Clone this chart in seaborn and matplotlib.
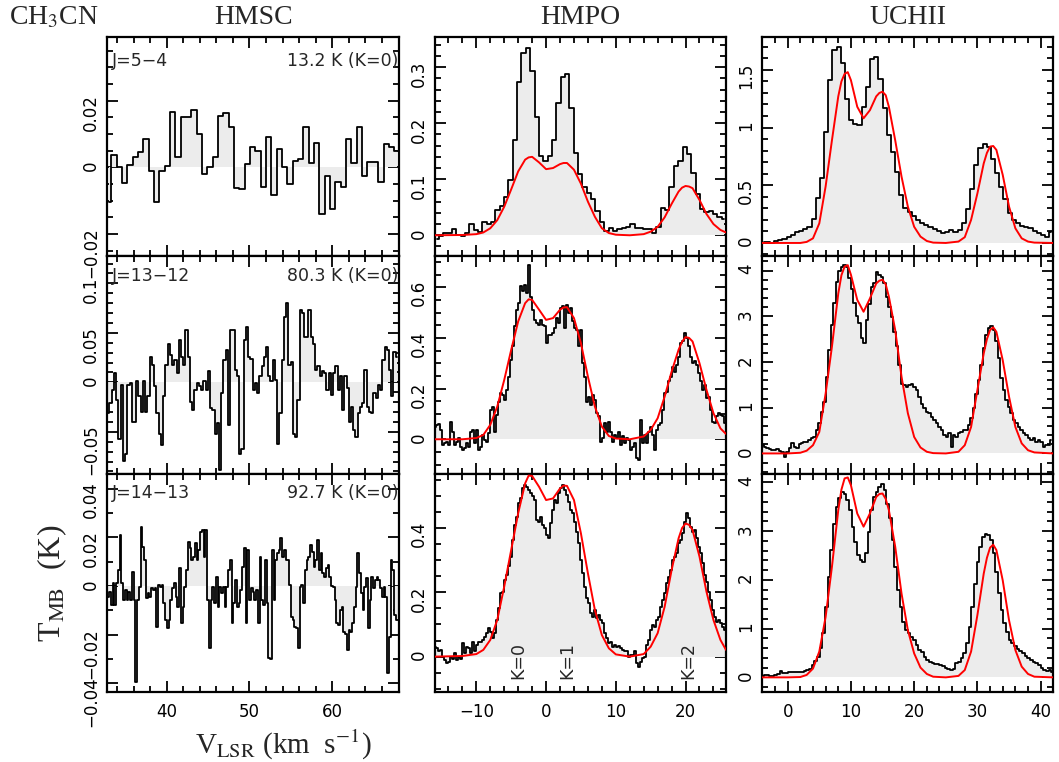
import numpy as np
import matplotlib
matplotlib.use('Agg')
import matplotlib.pyplot as plt
import seaborn as sns
from matplotlib.ticker import MultipleLocator, FuncFormatter

sns.set_theme(style='ticks')
plt.rcParams['font.family'] = ['DejaVu Sans']
plt.rcParams['mathtext.fontset'] = 'stix'

# Panel labels
sources = ['HMSC', 'HMPO', 'UCHII']
transitions = ['J=5\u22124', 'J=13\u221212', 'J=14\u221213']
eup_labels = ['13.2 K (K=0)', '80.3 K (K=0)', '92.7 K (K=0)']

# velocity span (first / last channel centre) of each spectrum, km/s
hmsc_span = [(33.0, 67.8), (32.95, 67.8), (32.95, 68.0)]
hmpo_span = [(-15.7, 25.5), (-15.9, 25.6), (-15.9, 25.7)]
uchii_span = [(-3.8, 41.7), (-4.0, 41.7), (-4.0, 41.9)]

# ---------------- HMSC spectra (K) ----------------
hmsc_54 = [-0.0103, 0.0037, 0.0, -0.0048, 0.0008, 0.0030, 0.0045, 0.0085, -0.0010, -0.0105,
           -0.0012, 0.0003, 0.0165, 0.0030, 0.0150, 0.0152, 0.0172, 0.0100, -0.0020, 0.0000,
           0.0030, 0.0155, 0.0162, 0.0120, -0.0062, -0.0065, 0.0010, 0.0060, 0.0050, -0.0058,
           0.0090, -0.0082, 0.0055, 0.0000, -0.0050, 0.0020, 0.0025, 0.0120, 0.0012, 0.0072,
           -0.0140, -0.0025, -0.0125, -0.0045, -0.0058, 0.0085, 0.0012, 0.0122, -0.0025, 0.0015,
           0.0015, -0.0043, 0.0070, 0.0060, 0.0050]

hmsc_1312 = [-0.031, -0.021, -0.008, 0.009, -0.018, -0.057, -0.003, -0.079, -0.072, -0.003,
             -0.001, -0.040, -0.040, 0.001, -0.014, -0.030, 0.001, -0.030, -0.014, 0.026,
             0.018, -0.004, -0.031, -0.052, -0.063, -0.014, 0.018, 0.039, 0.028, 0.018,
             0.023, 0.009, 0.043, 0.026, 0.018, 0.053, 0.026, -0.020, -0.028, -0.008,
             -0.001, -0.004, -0.008, 0.001, -0.008, 0.011, -0.026, -0.028, -0.052, -0.041,
             -0.089, -0.011, 0.023, 0.033, -0.043, 0.053, 0.053, 0.012, 0.006, -0.072,
             -0.067, 0.043, 0.056, 0.026, 0.024, -0.008, -0.001, -0.011, 0.006, 0.016,
             0.026, 0.036, 0.006, 0.001, 0.023, 0.002, -0.062, -0.031, 0.023, 0.066,
             0.080, 0.018, 0.021, -0.052, -0.055, -0.018, 0.073, 0.070, 0.046, 0.046,
             0.073, 0.046, 0.039, 0.012, 0.016, 0.006, 0.011, 0.009, -0.008, 0.009,
             -0.013, 0.009, 0.016, -0.008, 0.006, -0.028, 0.006, -0.006, -0.040, -0.025,
             -0.048, -0.055, -0.031, -0.025, -0.021, 0.012, -0.025, -0.030, -0.031, -0.011,
             -0.016, -0.003, -0.008, 0.023, 0.036, 0.033, 0.012, -0.014, 0.031, 0.026]

hmsc_1413 = [-0.0044, -0.0023, -0.0078, 0.0011, -0.0078, 0.0011, 0.0066, 0.0210, 0.0011, -0.0058,
             -0.0016, -0.0058, -0.0023, -0.0058, 0.0059, -0.0058, -0.0393, -0.0058, -0.0003, 0.0244,
             0.0162, 0.0107, -0.0051, -0.0030, -0.0044, -0.0010, -0.0016, -0.0010, -0.0167, 0.0004,
             -0.0003, 0.0004, -0.0071, -0.0140, -0.0174, -0.0140, -0.0058, -0.0010, 0.0011, -0.0044,
             -0.0085, 0.0073, -0.0153, -0.0085, -0.0003, 0.0066, 0.0182, 0.0155, 0.0107, 0.0121,
             0.0175, 0.0107, 0.0148, 0.0223, 0.0230, 0.0121, 0.0230, -0.0058, -0.0256, -0.0058,
             -0.0003, -0.0071, 0.0038, -0.0085, -0.0003, -0.0030, -0.0003, -0.0085, -0.0003, 0.0066,
             0.0107, -0.0153, -0.0071, 0.0025, -0.0085, -0.0071, -0.0016, 0.0079, 0.0155, -0.0153,
             0.0148, -0.0058, -0.0010, -0.0023, -0.0058, -0.0016, -0.0153, 0.0121, -0.0058, -0.0078,
             0.0107, -0.0071, -0.0297, -0.0301, 0.0148, -0.0058, 0.0107, 0.0134, 0.0148, 0.0196,
             0.0121, 0.0148, 0.0107, 0.0107, 0.0004, -0.0126, -0.0140, -0.0167, -0.0174, -0.0256,
             -0.0003, 0.0004, -0.0071, 0.0066, 0.0107, 0.0121, 0.0169, 0.0141, 0.0079, 0.0107,
             0.0189, 0.0066, 0.0134, 0.0052, 0.0038, 0.0073, 0.0086, 0.0038, 0.0000, -0.0003,
             -0.0058, -0.0153, -0.0160, -0.0099, -0.0085, -0.0188, -0.0195, -0.0263, -0.0181, -0.0188,
             -0.0153, -0.0085, -0.0003, 0.0134, 0.0052, -0.0030, -0.0099, -0.0003, 0.0032, -0.0174,
             -0.0058, 0.0038, -0.0010, 0.0025, 0.0038, 0.0025, -0.0010, -0.0044, -0.0003, -0.0044,
             -0.0359, -0.0208, 0.0107, 0.0066, -0.0119, -0.0140, -0.0140]

# ---------------- HMPO spectra (K) ----------------
hmpo_54 = [-0.007, -0.002, 0.004, 0.004, 0.011, 0.001, -0.002, 0.004, 0.020, 0.010,
           0.005, 0.024, 0.020, 0.023, 0.045, 0.052, 0.069, 0.099, 0.170, 0.274,
           0.325, 0.335, 0.293, 0.211, 0.142, 0.133, 0.142, 0.170, 0.236, 0.283,
           0.288, 0.227, 0.146, 0.110, 0.087, 0.075, 0.064, 0.044, 0.024, 0.008,
           0.013, 0.008, 0.011, 0.013, 0.015, 0.021, 0.013, 0.013, 0.011, 0.011,
           0.004, 0.015, 0.048, 0.045, 0.087, 0.124, 0.132, 0.158, 0.145, 0.111,
           0.074, 0.046, 0.042, 0.044, 0.038, 0.032, 0.029]

hmpo_1312 = [0.050, 0.057, 0.061, 0.037, -0.022, -0.016, -0.009, -0.022, 0.070, 0.030,
             -0.022, -0.009, 0.004, -0.029, -0.042, -0.036, -0.016, -0.029, 0.030, 0.037,
             -0.016, 0.037, -0.042, -0.029, 0.017, -0.003, -0.009, 0.024, 0.116, 0.129,
             0.030, 0.096, 0.149, 0.182, 0.175, 0.155, 0.195, 0.247, 0.313, 0.366,
             0.445, 0.511, 0.537, 0.603, 0.583, 0.609, 0.576, 0.688, 0.563, 0.511,
             0.471, 0.458, 0.451, 0.471, 0.451, 0.445, 0.379, 0.412, 0.412, 0.418,
             0.438, 0.478, 0.458, 0.517, 0.524, 0.438, 0.530, 0.497, 0.517, 0.465,
             0.438, 0.432, 0.366, 0.432, 0.300, 0.247, 0.149, 0.168, 0.136, 0.175,
             0.155, 0.103, 0.090, -0.009, 0.004, 0.063, 0.030, 0.070, 0.030, -0.009,
             0.017, 0.004, 0.030, -0.022, 0.011, -0.016, 0.004, -0.003, -0.042, -0.029,
             -0.016, -0.075, -0.082, 0.076, -0.016, 0.017, -0.016, 0.030, 0.050, 0.017,
             -0.042, 0.037, 0.057, 0.063, 0.116, 0.182, 0.188, 0.228, 0.247, 0.287,
             0.267, 0.293, 0.326, 0.379, 0.386, 0.418, 0.399, 0.366, 0.326, 0.300,
             0.307, 0.293, 0.261, 0.228, 0.195, 0.215, 0.162, 0.168, 0.116, 0.070,
             0.063, 0.090, 0.103, 0.096, 0.090, 0.063]

hmpo_1413 = [0.031, 0.026, 0.016, 0.021, 0.000, -0.010, -0.021, -0.016, 0.000, -0.008,
             0.010, -0.010, 0.000, -0.008, 0.041, 0.010, 0.031, 0.026, 0.010, 0.044,
             0.016, 0.036, 0.047, 0.044, 0.052, 0.062, 0.075, 0.088, 0.078, 0.057,
             0.073, 0.114, 0.150, 0.197, 0.202, 0.238, 0.254, 0.282, 0.311, 0.363,
             0.409, 0.435, 0.477, 0.492, 0.523, 0.534, 0.528, 0.518, 0.508, 0.499,
             0.487, 0.425, 0.420, 0.433, 0.409, 0.399, 0.378, 0.368, 0.415, 0.456,
             0.487, 0.477, 0.508, 0.523, 0.534, 0.518, 0.503, 0.482, 0.456, 0.446,
             0.420, 0.389, 0.352, 0.301, 0.259, 0.218, 0.181, 0.166, 0.135, 0.124,
             0.145, 0.119, 0.130, 0.114, 0.104, 0.073, 0.057, 0.041, 0.044, 0.031,
             0.036, 0.031, 0.033, 0.026, 0.021, 0.016, 0.016, 0.000, 0.005, 0.005,
             0.016, -0.021, -0.031, -0.016, -0.005, 0.000, 0.036, 0.052, 0.083, 0.098,
             0.093, 0.114, 0.124, 0.155, 0.176, 0.197, 0.228, 0.249, 0.269, 0.301,
             0.311, 0.321, 0.352, 0.363, 0.383, 0.420, 0.446, 0.430, 0.404, 0.389,
             0.394, 0.368, 0.342, 0.321, 0.290, 0.254, 0.233, 0.202, 0.176, 0.145,
             0.124, 0.109, 0.114, 0.104, 0.093, 0.083]

# ---------------- UCHII spectra (K) ----------------
uchii_54 = [0.012, 0.006, 0.000, 0.020, 0.026, 0.032, 0.049, 0.069, 0.092, 0.104,
            0.118, 0.142, 0.208, 0.387, 0.561, 0.965, 1.413, 1.673, 1.694, 1.558,
            1.249, 1.061, 1.032, 1.023, 1.182, 1.350, 1.592, 1.610, 1.422, 1.168,
            0.936, 0.792, 0.618, 0.416, 0.301, 0.272, 0.234, 0.199, 0.176, 0.153,
            0.142, 0.118, 0.104, 0.084, 0.092, 0.113, 0.098, 0.113, 0.171, 0.292,
            0.468, 0.676, 0.821, 0.858, 0.829, 0.725, 0.604, 0.488, 0.379, 0.257,
            0.199, 0.171, 0.147, 0.142, 0.127, 0.107, 0.084, 0.066, 0.055, 0.098]

uchii_1312 = [0.18, 0.13, 0.11, 0.10, 0.07, 0.08, 0.09, 0.06, 0.04, -0.07,
              0.04, 0.12, 0.22, 0.13, 0.11, 0.20, 0.22, 0.24, 0.26, 0.30,
              0.33, 0.36, 0.51, 0.66, 0.90, 1.13, 1.68, 2.26, 2.80, 3.30,
              3.75, 4.00, 4.09, 4.12, 4.09, 3.83, 3.60, 3.30, 3.00, 2.85,
              2.52, 2.41, 2.92, 3.28, 3.65, 3.72, 3.98, 3.91, 3.87, 3.72,
              3.43, 3.21, 2.99, 2.66, 2.34, 1.93, 1.53, 1.50, 1.46, 1.50,
              1.53, 1.46, 1.39, 1.24, 1.09, 0.99, 0.91, 0.88, 0.80, 0.73,
              0.66, 0.58, 0.51, 0.40, 0.36, 0.44, 0.15, 0.40, 0.36, 0.45,
              0.47, 0.51, 0.51, 0.62, 0.77, 0.99, 1.31, 1.61, 1.93, 2.30,
              2.59, 2.74, 2.79, 2.70, 2.45, 2.08, 1.64, 1.39, 1.17, 1.02,
              0.88, 0.73, 0.66, 0.58, 0.51, 0.44, 0.40, 0.33, 0.29, 0.33,
              0.26, 0.29, 0.26, 0.15, 0.18, 0.18, 0.29]

uchii_1413 = [0.03, 0.05, 0.05, 0.03, 0.03, 0.05, 0.07, 0.14, 0.08, 0.09,
              0.10, 0.11, 0.12, 0.10, 0.10, 0.12, 0.13, 0.15, 0.18, 0.25,
              0.34, 0.42, 0.60, 0.90, 1.45, 2.06, 2.61, 3.15, 3.49, 3.67,
              3.80, 3.77, 3.63, 3.43, 3.09, 2.78, 2.51, 2.40, 2.37, 2.54,
              2.98, 3.43, 3.70, 3.80, 3.90, 3.96, 3.84, 3.56, 3.26, 2.81,
              2.27, 1.79, 1.45, 1.14, 0.97, 0.90, 0.83, 0.76, 0.66, 0.56,
              0.51, 0.42, 0.35, 0.32, 0.30, 0.27, 0.27, 0.25, 0.23, 0.20,
              0.18, 0.16, 0.18, 0.30, 0.32, 0.39, 0.49, 0.70, 1.04, 1.45,
              1.92, 2.37, 2.68, 2.88, 2.94, 2.91, 2.81, 2.54, 2.16, 1.72,
              1.38, 1.11, 0.94, 0.76, 0.70, 0.64, 0.59, 0.55, 0.49, 0.44,
              0.39, 0.35, 0.32, 0.29, 0.25, 0.20, 0.16, 0.14, 0.15, 0.12]

# ---------------- model fits (red) ----------------
hmpo_fit_v = [-16, -12, -10, -9, -8, -7, -6, -5, -4, -3, -2.5, -2, -1, 0, 1, 2, 2.5, 3, 4, 5,
              6, 7, 8, 9, 10, 12, 14, 15, 16, 17, 18, 19, 19.5, 20, 20.5, 21, 22, 23, 24, 25, 25.8]
hmpo_fit_54 = [0.0, 0.0005, 0.002, 0.005, 0.0125, 0.027, 0.051, 0.082, 0.114, 0.135,
               0.139, 0.140, 0.130, 0.118, 0.120, 0.127, 0.129, 0.129, 0.117, 0.092,
               0.060, 0.033, 0.0125, 0.004, 0.001, 0.0, 0.002, 0.0065, 0.015, 0.032,
               0.056, 0.078, 0.085, 0.088, 0.087, 0.084, 0.063, 0.038, 0.020, 0.0095, 0.005]
hmpo_fit_1312 = [0.0, 0.0, 0.005, 0.017, 0.057, 0.129, 0.234, 0.353, 0.465, 0.537,
                 0.552, 0.550, 0.511, 0.471, 0.478, 0.511, 0.520, 0.521, 0.478, 0.379,
                 0.247, 0.129, 0.050, 0.013, 0.003, 0.0, 0.011, 0.037, 0.083, 0.168,
                 0.267, 0.353, 0.385, 0.403, 0.400, 0.386, 0.300, 0.195, 0.103, 0.043, 0.021]
hmpo_fit_1413 = [0.0, 0.002, 0.008, 0.021, 0.052, 0.114, 0.218, 0.332, 0.446, 0.539,
                 0.563, 0.562, 0.528, 0.487, 0.492, 0.523, 0.532, 0.531, 0.487, 0.383,
                 0.259, 0.145, 0.067, 0.026, 0.007, 0.0, 0.008, 0.031, 0.073, 0.155,
                 0.269, 0.368, 0.400, 0.414, 0.410, 0.394, 0.311, 0.202, 0.114, 0.052, 0.021]

uchii_fit_v = [-4, 0, 2, 3, 4, 5, 6, 7, 8, 8.5, 9, 9.5, 10, 11, 12, 13, 14, 14.5, 15, 15.5,
               16, 17, 18, 19, 20, 21, 22, 23, 25, 27, 28, 29, 30, 31, 31.5, 32, 32.5, 33, 34, 35,
               36, 37, 38, 39, 42]
uchii_fit_54 = [0.0, 0.0, 0.0, 0.009, 0.04, 0.17, 0.49, 0.89, 1.27, 1.40, 1.465, 1.48,
                1.41, 1.18, 1.08, 1.15, 1.27, 1.30, 1.31, 1.28,
                1.18, 0.89, 0.575, 0.315, 0.14, 0.055, 0.017, 0.003, 0.0, 0.012,
                0.05, 0.20, 0.43, 0.69, 0.78, 0.835, 0.84, 0.806, 0.59, 0.315,
                0.127, 0.04, 0.012, 0.003, 0.0]
uchii_fit_1312 = [0.0, 0.0, 0.015, 0.06, 0.18, 0.47, 1.31, 2.34, 3.50, 3.90, 4.09, 4.12,
                  3.91, 3.36, 3.10, 3.39, 3.72, 3.78, 3.80, 3.70,
                  3.43, 2.70, 1.68, 0.88, 0.36, 0.13, 0.036, 0.007, 0.0, 0.036,
                  0.18, 0.58, 1.39, 2.19, 2.50, 2.70, 2.76, 2.66, 2.04, 1.24,
                  0.58, 0.22, 0.07, 0.022, 0.0]
uchii_fit_1413 = [0.0, 0.0, 0.007, 0.05, 0.18, 0.53, 1.24, 2.27, 3.43, 3.85, 4.08, 4.10,
                  3.94, 3.36, 3.09, 3.36, 3.70, 3.76, 3.77, 3.66,
                  3.43, 2.68, 1.72, 0.97, 0.49, 0.20, 0.07, 0.014, 0.0, 0.03,
                  0.15, 0.53, 1.28, 2.13, 2.45, 2.66, 2.72, 2.61, 1.99, 1.17,
                  0.56, 0.22, 0.07, 0.014, 0.0]

# K-ladder labels in the HMPO J=14-13 panel
k_labels = ['K=0', 'K=1', 'K=2']
k_vel = [-4.0, 3.0, 20.4]

spectra = [[hmsc_54, hmpo_54, uchii_54],
           [hmsc_1312, hmpo_1312, uchii_1312],
           [hmsc_1413, hmpo_1413, uchii_1413]]
spans = [hmsc_span, hmpo_span, uchii_span]
fits = [[None, (hmpo_fit_v, hmpo_fit_54), (uchii_fit_v, uchii_fit_54)],
        [None, (hmpo_fit_v, hmpo_fit_1312), (uchii_fit_v, uchii_fit_1312)],
        [None, (hmpo_fit_v, hmpo_fit_1413), (uchii_fit_v, uchii_fit_1413)]]

# layout
xlims = [(32.83, 68.06), (-15.97, 25.8), (-4.06, 41.95)]
ylims = [[(-0.0266, 0.039), (-0.037, 0.353), (-0.113, 1.78)],
         [(-0.0926, 0.1276), (-0.137, 0.723), (-0.45, 4.32)],
         [(-0.0435, 0.046), (-0.11, 0.568), (-0.30, 4.17)]]
ymajor = [[0.02, 0.1, 0.5], [0.05, 0.2, 1], [0.02, 0.2, 1]]
yminor = [[0.005, 0.02, 0.1], [0.01, 0.05, 0.2], [0.01, 0.05, 0.2]]
lefts = [107.3 / 1059, 434.7 / 1059, 762 / 1059]
widths = [291.7 / 1059, 291.3 / 1059, 291 / 1059]
tops = [37.5, 256, 474]
bottoms = [256, 474, 692]


def fmt(x, pos):
    x = round(x, 6)
    if abs(x) < 1e-9:
        x = 0
    return f'{x:g}'.replace('-', '\u2212')


fig = plt.figure(figsize=(10.59, 7.62), dpi=100)

for r in range(3):
    for c in range(3):
        ax = fig.add_axes([lefts[c], 1 - bottoms[r] / 762, widths[c], (bottoms[r] - tops[r]) / 762])
        vals = np.array(spectra[r][c])
        v = np.linspace(spans[c][r][0], spans[c][r][1], len(vals))
        ax.fill_between(v, vals, 0, step='mid', color='#ececec', lw=0, zorder=1)
        sns.lineplot(x=v, y=vals, ax=ax, color='black', linewidth=1.3,
                     drawstyle='steps-mid', estimator=None, sort=False, zorder=3)
        if fits[r][c] is not None:
            fv, fy = fits[r][c]
            sns.lineplot(x=fv, y=fy, ax=ax, color='#ff0000', linewidth=1.4,
                         estimator=None, sort=False, zorder=4)
        ax.set_xlim(*xlims[c])
        ax.set_ylim(*ylims[r][c])
        ax.set_xlabel('')
        ax.set_ylabel('')
        ax.xaxis.set_major_locator(MultipleLocator(10))
        ax.xaxis.set_minor_locator(MultipleLocator(2))
        ax.yaxis.set_major_locator(MultipleLocator(ymajor[r][c]))
        ax.yaxis.set_minor_locator(MultipleLocator(yminor[r][c]))
        ax.xaxis.set_major_formatter(FuncFormatter(fmt))
        ax.yaxis.set_major_formatter(FuncFormatter(fmt))
        ax.tick_params(which='both', direction='in', top=True, right=True,
                       width=1.3, colors='black', labelsize=12)
        ax.tick_params(which='major', length=8)
        ax.tick_params(which='minor', length=4)
        ax.tick_params(axis='y', labelrotation=90, pad=5)
        ax.tick_params(axis='x', pad=8, labelbottom=(r == 2))
        for s in ax.spines.values():
            s.set_linewidth(1.6)
            s.set_color('black')
        if c == 0:
            ytxt = [0.935, 0.95, 0.955][r]
            ax.text(0.015, ytxt, transitions[r], transform=ax.transAxes,
                    ha='left', va='top', fontsize=12.5, zorder=5)
            ax.text(0.998, ytxt, eup_labels[r], transform=ax.transAxes,
                    ha='right', va='top', fontsize=12.5, zorder=5)
        if r == 2 and c == 1:
            for lab, kv in zip(k_labels, k_vel):
                ax.text(kv, -0.012, lab, rotation=90, ha='center', va='center',
                        fontsize=12.5, zorder=5)

serif = 'Liberation Serif'
fig.text(9 / 1059, 1 - 18 / 762, 'CH$_3$CN', ha='left', va='center', fontsize=20, family=serif)
for c, name in enumerate(sources):
    fig.text(lefts[c] + widths[c] / 2, 1 - 18 / 762, name, ha='center', va='center',
             fontsize=20, family=serif)
fig.text(283 / 1059, 1 - 745 / 762, r'V$_{\rm LSR}$ (km  s$^{-1}$)', ha='center', va='center',
         fontsize=21, family=serif)
fig.text(52 / 1059, 1 - 583 / 762, r'T$_{\rm MB}$  (K)', rotation=90, ha='center', va='center',
         fontsize=23, family=serif)

fig.savefig('out.png', dpi=100)
